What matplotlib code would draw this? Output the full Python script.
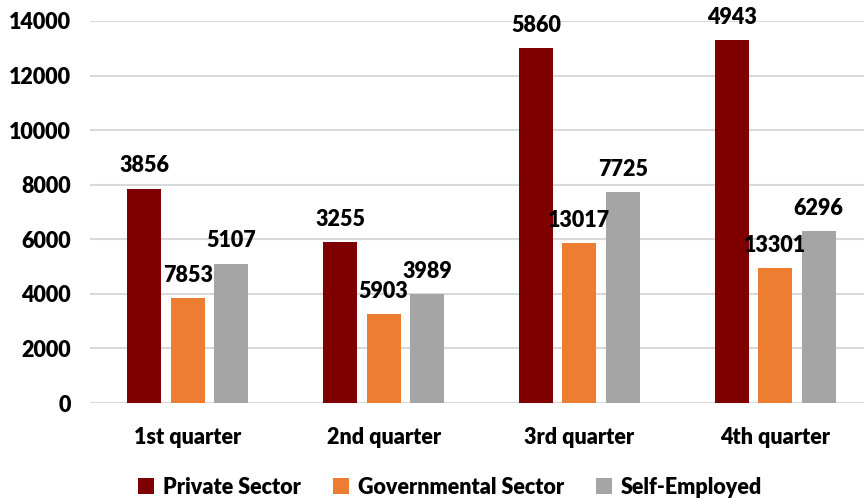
import matplotlib
matplotlib.use("Agg")
import matplotlib.pyplot as plt
import numpy as np

categories = ["1st quarter", "2nd quarter", "3rd quarter", "4th quarter"]
series_names = ["Private Sector", "Governmental Sector", "Self-Employed"]
private = [7853, 5903, 13017, 13301]
governmental = [3856, 3255, 5860, 4943]
self_employed = [5107, 3989, 7725, 6296]
# data labels as printed in the chart
private_labels = ["3856", "3255", "5860", "4943"]
governmental_labels = ["7853", "5903", "13017", "13301"]
self_labels = ["5107", "3989", "7725", "6296"]
yticks = [0, 2000, 4000, 6000, 8000, 10000, 12000, 14000]

colors = ["#7f0000", "#ed7d31", "#a5a5a5"]
plt.rcParams['font.family'] = ['Lato', 'DejaVu Sans']
FW = 'heavy'
FS = 15.5

W, H = 864, 498
fig = plt.figure(figsize=(W/100, H/100), dpi=100)
left, right = 90, 873
bottom, top = 403, 21
ax = fig.add_axes([left/W, 1-bottom/H, (right-left)/W, (bottom-top)/H])

x = np.arange(len(categories))
bw = 0.173
step = 0.222
vals = [private, governmental, self_employed]
labs = [private_labels, governmental_labels, self_labels]
for i, (v, l, c, n) in enumerate(zip(vals, labs, colors, series_names)):
    pos = x + (i-1)*step
    ax.bar(pos, v, bw, color=c, label=n, zorder=3)
    for p, val, txt in zip(pos, v, l):
        ax.text(p, val + 450, txt, ha='center', va='bottom', fontsize=FS,
                fontweight=FW, color='black', zorder=4)

ax.set_xlim(-0.5, 3.5)
ax.set_ylim(0, 14000)
ax.set_yticks(yticks)
ax.set_yticklabels([str(t) for t in yticks], fontsize=FS, fontweight=FW)
ax.set_xticks(x)
ax.set_xticklabels(categories, fontsize=FS, fontweight=FW)
ax.tick_params(length=0, pad=14)
ax.tick_params(axis='x', pad=17)
ax.grid(axis='y', color='#d9d9d9', linewidth=1.5, zorder=0)
for s in ax.spines.values():
    s.set_visible(False)

fig.legend(loc='center', bbox_to_anchor=(450/W, 1-487/H), ncol=3, frameon=False,
           handlelength=0.75, handleheight=0.75, columnspacing=1.5,
           handletextpad=0.4, prop={'weight': FW, 'size': FS})

fig.savefig("out.png", dpi=100)
